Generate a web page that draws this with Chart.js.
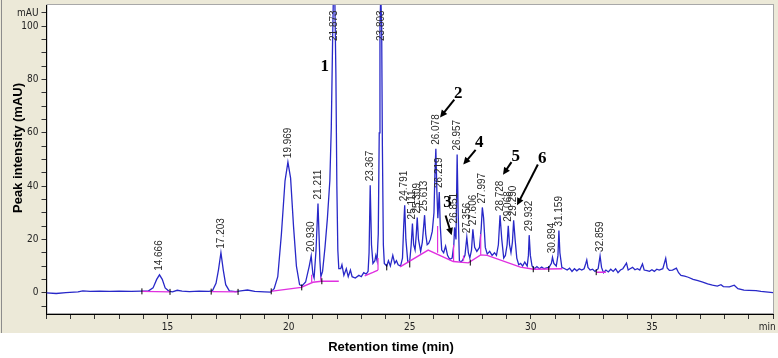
<!DOCTYPE html>
<html>
<head>
<meta charset="utf-8">
<title>Chromatogram</title>
<script src="https://cdn.jsdelivr.net/npm/chart.js@4.4.1/dist/chart.umd.min.js"></script>
<style>
  html, body { margin: 0; padding: 0; background: #fff; }
  canvas { display: block; }
</style>
</head>
<body>
<canvas id="chromato" width="778" height="358"></canvas>
<script>
// retention time (min) / signal (mAU) of the blue trace
const times = [
  10.00, 10.40, 10.80, 11.30, 11.50, 11.80, 12.20, 12.60, 13.00, 13.50, 13.90,
  14.20, 14.40, 14.55, 14.666, 14.78, 14.90, 15.05, 15.20, 15.40, 15.60, 15.90, 16.30, 16.70,
  16.85, 17.00, 17.10, 17.203, 17.30, 17.40, 17.55, 17.80, 18.10, 18.30, 18.60, 19.00, 19.25,
  19.40, 19.55, 19.70, 19.85, 19.969, 20.08, 20.20, 20.32, 20.45, 20.55, 20.70, 20.85, 20.930,
  21.00, 21.05, 21.13, 21.211, 21.29, 21.33, 21.40, 21.50, 21.60, 21.70, 21.76, 21.81, 21.84, 21.873,
  21.91, 21.95, 21.99, 22.03, 22.07, 22.15, 22.20, 22.28, 22.38, 22.46, 22.55, 22.62, 22.75, 22.90,
  23.00, 23.10, 23.20, 23.28, 23.32, 23.367, 23.42, 23.48, 23.56, 23.60, 23.65, 23.70, 23.74, 23.77,
  23.803, 23.84, 23.87, 23.91, 23.95, 24.05, 24.12, 24.20, 24.30, 24.38, 24.45, 24.52, 24.62, 24.70,
  24.75, 24.791, 24.84, 24.92, 25.00, 25.06, 25.111, 25.16, 25.22, 25.27, 25.309, 25.36, 25.45,
  25.52, 25.613, 25.66, 25.72, 25.78, 25.85, 25.93, 26.00, 26.04, 26.078, 26.12, 26.16, 26.219,
  26.26, 26.32, 26.40, 26.48, 26.56, 26.65, 26.75, 26.82, 26.851, 26.91, 26.957, 27.00, 27.05,
  27.12, 27.20, 27.28, 27.356, 27.42, 27.48, 27.55, 27.606, 27.68, 27.77, 27.88, 27.95, 27.997,
  28.05, 28.12, 28.20, 28.30, 28.40, 28.50, 28.58, 28.66, 28.728, 28.80, 28.88, 28.95, 29.02,
  29.068, 29.12, 29.18, 29.24, 29.290, 29.35, 29.42, 29.50, 29.58, 29.66, 29.75, 29.85, 29.90,
  29.932, 29.98, 30.05, 30.15, 30.25, 30.35, 30.45, 30.55, 30.65, 30.75, 30.85, 30.894, 30.95,
  31.05, 31.12, 31.159, 31.20, 31.28, 31.40, 31.50, 31.60, 31.70, 31.80, 31.90, 32.00, 32.10,
  32.20, 32.27, 32.31, 32.36, 32.45, 32.55, 32.65, 32.78, 32.859, 32.92, 33.00, 33.10, 33.20,
  33.30, 33.40, 33.50, 33.60, 33.70, 33.80, 33.95, 34.02, 34.10, 34.20, 34.30, 34.40, 34.50,
  34.61, 34.68, 34.80, 34.90, 35.00, 35.10, 35.20, 35.30, 35.45, 35.57, 35.63, 35.72, 35.85,
  36.01, 36.10, 36.20, 36.35, 36.50, 36.70, 36.90, 37.10, 37.30, 37.50, 37.70, 37.85, 37.95,
  38.20, 38.40, 38.55, 38.80, 39.00, 39.30, 39.50, 39.70, 40.00
];
const signal = [
  -0.1, -0.3, 0.0, 0.3, 0.7, 0.5, 0.6, 0.5, 0.6, 0.5, 0.6,
  0.6, 1.8, 5.0, 6.7, 5.0, 1.8, 0.6, 0.3, 0.9, 0.6, 0.4, 0.6, 0.5,
  0.7, 3.5, 8.5, 15.0, 8.5, 3.0, 0.7, 0.4, 0.8, 1.0, 0.5, 0.3, 0.2,
  1.5, 6.0, 22, 42, 49, 43, 25, 10, 3.0, 2.5, 4.0, 10, 13.8,
  7.0, 5.5, 16, 33.5, 12, 6.0, 8.0, 17, 28, 42, 62, 92, 108, 112,
  108, 82, 40, 16, 9.0, 9.0, 10.5, 6.5, 9.0, 6.0, 8.5, 6.0, 5.5, 6.5,
  6.0, 7.5, 7.0, 8.0, 15, 40.3, 18, 11, 12, 14, 12, 22, 60, 100,
  112, 100, 55, 18, 11, 10, 12, 10, 14, 11, 12, 10.5, 10, 13,
  25, 32.8, 20, 11.5, 12, 18, 26, 18, 16, 22, 28.2, 20, 15.5,
  19, 29.1, 22, 18, 18.5, 20, 23, 30, 45, 54, 38, 28, 37.8,
  25, 16, 15, 17.5, 14, 12.5, 13, 18, 24.5, 20, 51.9, 30, 12,
  11.5, 12.5, 14, 20.8, 15, 13, 16, 23.8, 17, 15.5, 17, 24, 32,
  28, 17, 14.5, 15.5, 14, 15, 14, 18, 29.1, 20, 13, 14, 18,
  25.1, 18, 15, 19, 27.2, 20, 13, 10.5, 11, 10, 11.5, 10, 14,
  21.6, 14, 10, 9.0, 9.8, 9.0, 9.6, 9.0, 9.3, 9.5, 11, 13.3, 11,
  10, 14, 23.3, 15, 9.5, 9.0, 8.5, 9.2, 8.0, 9.0, 8.2, 9.0, 8.5,
  9.0, 11, 12.3, 9.5, 8.5, 8.8, 8.0, 9.0, 13.8, 9.5, 7.5, 8.5, 7.8,
  8.8, 8.0, 9.0, 7.5, 8.5, 9.0, 11.1, 8.5, 9.0, 9.5, 8.6, 9.0, 8.5,
  10.8, 8.5, 8.3, 8.0, 8.6, 8.0, 8.8, 8.5, 9.0, 12.9, 9.3, 8.4, 8.5,
  9.2, 7.5, 6.5, 6.2, 5.8, 5.0, 4.5, 4.0, 3.3, 2.8, 2.5, 3.0, 2.3,
  2.2, 2.8, 1.5, 1.0, 0.9, 0.8, 0.5, 0.3, 0.0
];

// magenta integration baseline (null = gap between segments)
const baseTimes = [13.94, 15.10, 15.10, 16.79, 17.90, 17.90, 19.25, 20.52, 21.00, 21.36, 22.07, 22.07,
  23.14, 23.48, 23.69, 23.69, 24.60, 25.76, 26.80, 27.42, 27.93, 28.20, 29.57, 30.12, 31.30, 31.30,
  32.70, 33.10];
const baseValues = [0.5, 0.3, null, 0.4, 0.3, null, 0.5, 2.0, 3.9, 4.3, 4.3, null,
  6.3, 7.6, 8.5, null, 9.7, 16.0, 11.7, 11.2, 14.2, 14.0, 9.6, 8.8, 9.0, null,
  7.7, 7.7];

// magenta drop lines at peak boundaries
const dropTimes = [20.95, 21.33, 23.69, 26.15, 26.81, 27.22, 27.93];
const dropLow = [4.0, 4.3, 8.5, 15.0, 11.7, 12.0, 14.2];
const dropHigh = [6.7, 6.0, 13.0, 25.0, 18.0, 14.0, 22.0];

// small black integration marks
const markTimes = [13.94, 15.10, 16.80, 17.91, 19.28, 20.54, 21.37, 24.05, 25.00, 27.50, 30.10, 30.74, 32.70];
const markValues = [0.5, 0.3, 0.4, 0.3, 0.5, 2.0, 4.3, 9.5, 10.6, 11.3, 8.8, 8.9, 7.7];

// retention-time labels printed above the peaks
const peakLabels = ['14.666', '17.203', '19.969', '20.930', '21.211', '21.873', '23.367', '23.803',
  '24.791', '25.111', '25.309', '25.613', '26.078', '26.219', '26.851', '26.957', '27.356', '27.606',
  '27.997', '28.728', '29.068', '29.290', '29.932', '30.894', '31.159', '32.859'];

// numbered compounds and their arrows [time, mAU]
const compoundNames = ['1', '2', '3', '4', '5', '6'];
const compoundPos = [[21.49, 85.0], [27.00, 74.7], [26.56, 34.0], [27.87, 56.5], [29.38, 50.9], [30.47, 50.5]];
const arrowFrom = [null, [26.84, 72.5], [26.48, 29.0], [27.72, 53.6], [29.20, 49.0], [30.29, 48.1]];
const arrowTo = [null, [26.25, 65.8], [26.73, 21.6], [27.21, 48.1], [28.85, 44.3], [29.43, 32.8]];

const xTitle = 'Retention time (min)';
const yTitle = 'Peak intensity (mAU)';

const tickFont = { family: "'Liberation Sans Narrow', 'DejaVu Sans Condensed', sans-serif", size: 10 };

// apex value of a labelled peak, looked up in the trace
function apexOf(t) {
  let best = 0;
  for (let i = 1; i < times.length; i++) {
    if (Math.abs(times[i] - t) < Math.abs(times[best] - t)) best = i;
  }
  return signal[best];
}

function drawArrow(ctx, x1, y1, x2, y2) {
  const ang = Math.atan2(y2 - y1, x2 - x1);
  const head = 8;
  ctx.beginPath();
  ctx.moveTo(x1, y1);
  ctx.lineTo(x2 - Math.cos(ang) * head * 0.7, y2 - Math.sin(ang) * head * 0.7);
  ctx.stroke();
  ctx.beginPath();
  ctx.moveTo(x2, y2);
  ctx.lineTo(x2 - head * Math.cos(ang - 0.45), y2 - head * Math.sin(ang - 0.45));
  ctx.lineTo(x2 - head * Math.cos(ang + 0.45), y2 - head * Math.sin(ang + 0.45));
  ctx.closePath();
  ctx.fill();
}

// software-style grey frame behind the plot
const framePlugin = {
  id: 'frame',
  beforeDraw(chart) {
    const { ctx, chartArea: a } = chart;
    ctx.save();
    ctx.fillStyle = '#fff';
    ctx.fillRect(0, 0, chart.width, chart.height);
    ctx.fillStyle = '#ece9d8';
    ctx.fillRect(0, 0, chart.width, 333);
    ctx.strokeStyle = '#8c8c8c';
    ctx.lineWidth = 1;
    ctx.beginPath();
    ctx.moveTo(1.5, 0);
    ctx.lineTo(1.5, 333);
    ctx.stroke();
    ctx.fillStyle = '#fff';
    ctx.fillRect(a.left, a.top, a.right - a.left, a.bottom - a.top);
    ctx.strokeStyle = '#a8a8a8';
    ctx.strokeRect(a.left + 0.5, a.top - 0.5, a.right - a.left, a.bottom - a.top);
    ctx.restore();
  }
};

// peak labels, compound numbers, arrows and axis titles
const notesPlugin = {
  id: 'notes',
  afterDraw(chart) {
    const { ctx, chartArea: a } = chart;
    const xs = chart.scales.x, ys = chart.scales.y;
    ctx.save();

    ctx.fillStyle = '#2b2b2b';
    ctx.font = "10px 'Liberation Sans', Arial, sans-serif";
    ctx.textAlign = 'left';
    ctx.textBaseline = 'middle';
    peakLabels.forEach(lbl => {
      const t = parseFloat(lbl);
      const px = xs.getPixelForValue(t);
      let bottom = ys.getPixelForValue(apexOf(t)) - 4;
      if (bottom < a.top + 36) bottom = a.top + 36;
      ctx.save();
      ctx.translate(px, bottom);
      ctx.rotate(-Math.PI / 2);
      ctx.fillText(lbl, 0, 0);
      ctx.restore();
    });

    ctx.fillStyle = '#000';
    ctx.strokeStyle = '#000';
    ctx.lineWidth = 2;
    ctx.font = "bold 17px 'Liberation Serif', 'Times New Roman', serif";
    ctx.textAlign = 'center';
    ctx.textBaseline = 'middle';
    compoundNames.forEach((name, i) => {
      ctx.fillText(name, xs.getPixelForValue(compoundPos[i][0]), ys.getPixelForValue(compoundPos[i][1]));
      if (arrowFrom[i]) {
        drawArrow(ctx,
          xs.getPixelForValue(arrowFrom[i][0]), ys.getPixelForValue(arrowFrom[i][1]),
          xs.getPixelForValue(arrowTo[i][0]), ys.getPixelForValue(arrowTo[i][1]));
      }
    });

    ctx.font = "bold 13px 'Liberation Sans', Arial, sans-serif";
    ctx.fillText(xTitle, 391, 347.5);
    ctx.translate(18, 148);
    ctx.rotate(-Math.PI / 2);
    ctx.fillText(yTitle, 0, 0);
    ctx.restore();
  }
};

const traceData = times.map((t, i) => ({ x: t, y: signal[i] }));
const baseData = baseTimes.map((t, i) => ({ x: t, y: baseValues[i] }));
const dropData = [];
dropTimes.forEach((t, i) => {
  dropData.push({ x: t, y: dropLow[i] }, { x: t, y: dropHigh[i] }, { x: t, y: null });
});
const markData = markTimes.map((t, i) => ({ x: t, y: markValues[i] }));

new Chart(document.getElementById('chromato'), {
  type: 'line',
  data: {
    datasets: [
      { data: markData, showLine: false, pointStyle: 'line', pointRotation: 90, pointRadius: 3,
        pointBorderColor: '#000', pointBorderWidth: 1, order: 1 },
      { data: baseData, borderColor: '#e030e0', borderWidth: 1.4, pointRadius: 0, spanGaps: false, order: 2 },
      { data: dropData, borderColor: '#e030e0', borderWidth: 1.2, pointRadius: 0, spanGaps: false, order: 2 },
      { data: traceData, borderColor: '#2828c8', borderWidth: 1.3, pointRadius: 0, tension: 0, order: 3 }
    ]
  },
  options: {
    responsive: false,
    animation: false,
    devicePixelRatio: 1,
    layout: { padding: { top: 4, right: 2, left: 0, bottom: 0 } },
    plugins: { legend: { display: false }, tooltip: { enabled: false } },
    scales: {
      x: {
        type: 'linear',
        min: 10,
        max: 40,
        grid: { drawOnChartArea: false, drawTicks: true, tickLength: 5, color: '#333' },
        border: { display: true, color: '#000' },
        ticks: {
          stepSize: 1, autoSkip: false, maxRotation: 0, maxTicksLimit: 100, padding: 2,
          color: '#222', font: tickFont,
          callback: v => (v === 40 ? 'min    ' : (v % 5 === 0 && v > 10 ? String(v) : ''))
        },
        afterFit(scale) { scale.height = 44; scale.paddingLeft = 0; scale.paddingRight = 0; }
      },
      y: {
        min: -8,
        max: 108,
        grid: { drawOnChartArea: false, drawTicks: true, tickLength: 5, color: '#333' },
        border: { display: true, color: '#000' },
        ticks: {
          stepSize: 5, autoSkip: false, includeBounds: false, maxTicksLimit: 100, padding: 3,
          color: '#222', font: tickFont,
          callback: v => {
            const n = Math.round(v);
            if (n === 105) return 'mAU';
            return (n % 20 === 0 && n >= 0 && n <= 100) ? String(n) : '';
          }
        },
        afterFit(scale) { scale.width = 46.5; scale.paddingTop = 0; scale.paddingBottom = 0; }
      }
    }
  },
  plugins: [framePlugin, notesPlugin]
});
</script>
</body>
</html>
